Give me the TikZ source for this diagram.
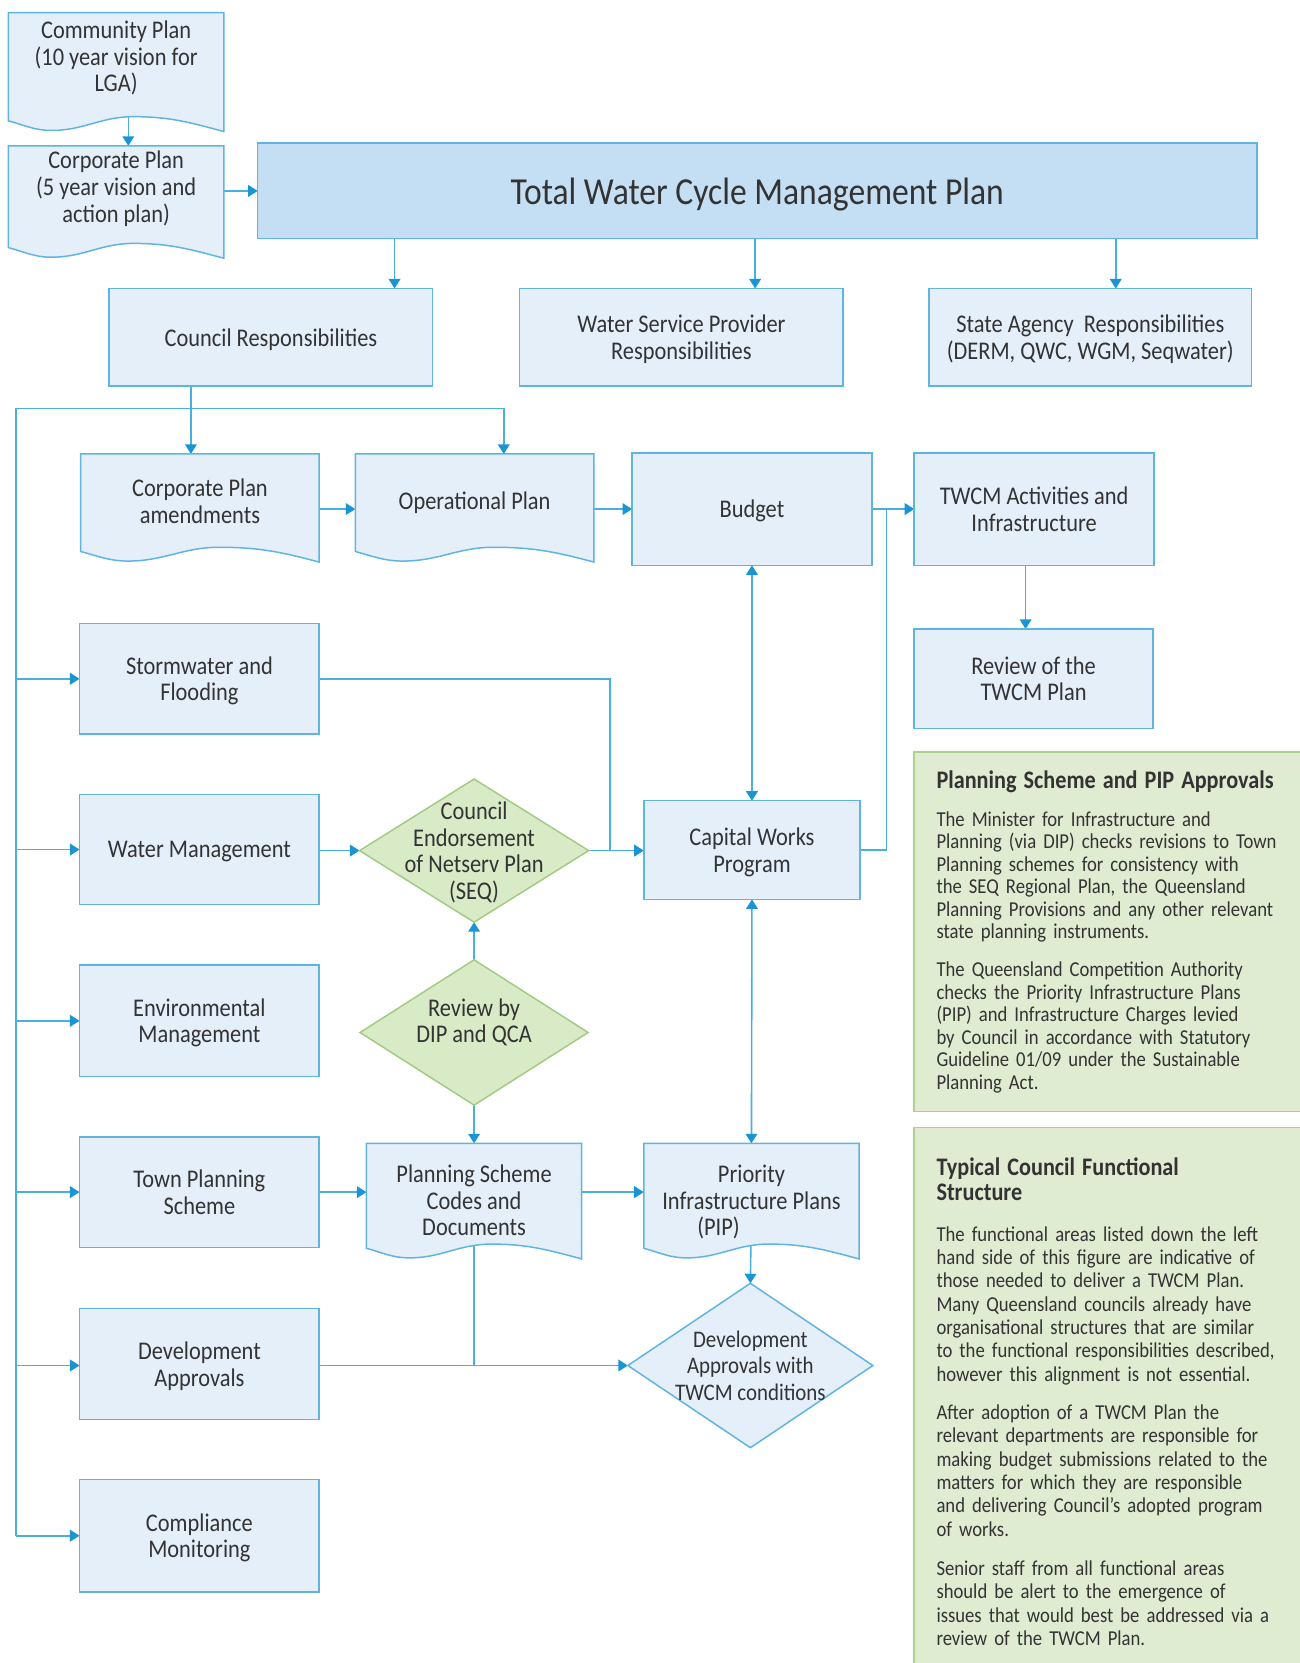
\documentclass[tikz,border=0pt]{standalone}
\usepackage{fontspec}
\setmainfont{Carlito}[FakeStretch=0.88]
\usetikzlibrary{arrows.meta,calc}
\pgfdeclarelayer{lines}
\pgfdeclarelayer{shapes}
\pgfsetlayers{lines,shapes,main}

\definecolor{bfill}{HTML}{E5EFF9}
\definecolor{tfill}{HTML}{C4DFF3}
\definecolor{bline}{HTML}{5FB4E0}
\definecolor{lcol}{HTML}{4AAEE0}
\definecolor{tipcol}{HTML}{1A95D4}
\definecolor{gfill}{HTML}{D9EAC6}
\definecolor{gline}{HTML}{A2CB82}
\definecolor{nfill}{HTML}{DFECD1}
\definecolor{nline}{HTML}{ABD291}
\definecolor{txtc}{HTML}{333333}

\newcommand\boxtxt{\fontsize{12}{12.5}\selectfont}
\newcommand\bigtxt{\fontsize{18}{20}\selectfont}
\newcommand\notetxt{\fontsize{10}{10.6}\selectfont}
\newcommand\notetxtb{\fontsize{10}{11}\selectfont}
\newcommand\notehead{\fontsize{11.9}{11}\selectfont\bfseries}

% document outline (flat top, wavy bottom) behind a text node
\newcommand\wavedoc[2]{%
  \begin{pgfonlayer}{shapes}
  \path[docshape] let \p1=(#1.south west), \p2=(#1.north east), \n1={\x2-\x1} in
    (\x1,\y2) -- (\x2,\y2) -- (\x2,\y1-#2)
    to[out=165,in=0] (\x1+0.58*\n1,\y1-#2+7pt)
    to[out=180,in=0] (\x1+0.2*\n1,\y1-#2+0.5pt)
    to[out=180,in=-15] (\x1,\y1-#2+5pt) -- cycle;
  \end{pgfonlayer}}
% decision diamond behind a text node
\newcommand\diashape[2]{%
  \begin{pgfonlayer}{shapes}
  \path[#2] (#1.north) -- (#1.east) -- (#1.south) -- (#1.west) -- cycle;
  \end{pgfonlayer}}

\begin{document}
\begin{tikzpicture}[x=0.5pt,y=-0.5pt,
  sz/.style 2 args={minimum width={#1*0.5pt},minimum height={#2*0.5pt}},
  txtnode/.style={align=center,inner sep=0pt,outer sep=0pt,text=txtc,font=\boxtxt,text depth=0pt},
  box/.style={txtnode,draw=bline,fill=bfill,line width=0.7pt},
  plain/.style={txtnode},
  docshape/.style={draw=bline,fill=bfill,line width=0.7pt},
  gdia/.style={draw=gline,fill=gfill,line width=0.7pt},
  bdia/.style={draw=bline,fill=bfill,line width=0.7pt},
  note/.style={align=left,text width=172pt,inner xsep=10.5pt,inner ysep=0pt,
    outer sep=0pt,text=txtc,font=\notetxt},
  line/.style={draw=lcol,line width=0.75pt},
  arr/.style={line,-{Triangle[width=5.5pt,length=4.5pt,color=tipcol]}},
  darr/.style={line,{Triangle[width=5.5pt,length=4.5pt,color=tipcol]}-{Triangle[width=5.5pt,length=4.5pt,color=tipcol]}}
]
\useasboundingbox (0,0) rectangle (1225,1568);

% ---- top plans
\node[plain,sz={203}{82}] (cp) at (109.5,53) {Community Plan\\(10 year vision for\\LGA)};
\wavedoc{cp}{15pt}
\node[plain,sz={203}{77}] (corp) at (109.5,176) {Corporate Plan\\(5 year vision and\\action plan)};
\wavedoc{corp}{14.5pt}
\node[box,sz={942}{90},fill=tfill,font=\bigtxt] (twcm) at (714,180) {Total Water Cycle Management Plan};

% ---- responsibilities
\node[box,sz={305}{92}] (cr) at (255.5,318) {Council Responsibilities};
\node[box,sz={305}{92}] (wsp) at (642.5,318) {Water Service Provider\\Responsibilities};
\node[box,sz={304}{92}] (sa) at (1028,318) {State Agency~ Responsibilities\\(DERM, QWC, WGM, Seqwater)};

% ---- planning row
\node[plain,sz={225}{89}] (cpa) at (188.5,472.5) {Corporate Plan\\amendments};
\wavedoc{cpa}{6.5pt}
\node[plain,sz={225}{89}] (op) at (447.5,472.5) {Operational Plan};
\wavedoc{op}{6.5pt}
\node[box,sz={226}{106}] (budget) at (709,480) {Budget};
\node[box,sz={226}{106}] (twa) at (975,480) {TWCM Activities and\\Infrastructure};
\node[box,sz={225}{94}] (rev) at (974.5,640) {Review of the\\TWCM Plan};

% ---- functional areas
\node[box,sz={226}{104}] (sw) at (188,640) {Stormwater and\\Flooding};
\node[box,sz={226}{104}] (wm) at (188,801) {Water Management};
\node[box,sz={226}{105}] (env) at (188,962.5) {Environmental\\Management};
\node[box,sz={226}{104}] (tps) at (188,1124) {Town Planning\\Scheme};
\node[box,sz={226}{105}] (dapp) at (188,1286) {Development\\Approvals};
\node[box,sz={226}{106}] (cm) at (188,1448) {Compliance\\Monitoring};

% ---- approvals and works
\node[plain,sz={216}{135}] (ce) at (447,802) {Council\\Endorsement\\of Netserv Plan\\(SEQ)};
\diashape{ce}{gdia}
\node[plain,sz={215}{137},text depth=11pt] (rdq) at (447,973.5) {Review by\\DIP and QCA};
\diashape{rdq}{gdia}
\node[box,sz={204}{93}] (cwp) at (709,801.5) {Capital Works\\Program};
\node[plain,sz={203}{108}] (pscd) at (447,1132) {Planning Scheme\\Codes and\\Documents};
\wavedoc{pscd}{0.5pt}
\node[plain,sz={203}{108}] (pip) at (708.5,1132) {Priority\\Infrastructure Plans\\\hspace*{-31pt}(PIP)};
\wavedoc{pip}{0.5pt}
\node[plain,sz={231}{155},font=\fontsize{11.2}{12.5}\selectfont] (dawc) at (707.5,1287.5) {Development\\Approvals with\\TWCM conditions};
\diashape{dawc}{bdia}

% ---- side notes
\node[note,anchor=north west,draw=nline,fill=nfill,line width=0.7pt,minimum height=169.5pt] (g1) at (862,709)
 {{\notehead Planning Scheme and PIP Approvals}\\[7.4pt]
  The Minister for Infrastructure and\\
  Planning (via DIP) checks revisions to Town\\
  Planning schemes for consistency with\\
  the SEQ Regional Plan, the Queensland\\
  Planning Provisions and any other relevant\\
  state planning instruments.\\[7.4pt]
  The Queensland Competition Authority\\
  checks the Priority Infrastructure Plans\\
  (PIP) and Infrastructure Charges levied\\
  by Council in accordance with Statutory\\
  Guideline 01/09 under the Sustainable\\
  Planning Act.};

\node[note,anchor=north west,inner ysep=14.3pt,font=\notetxtb] (g2) at (862,1063)
 {{\notehead Typical Council Functional}\\[1pt]
  {\notehead Structure}\\[8pt]
  The functional areas listed down the left\\
  hand side of this figure are indicative of\\
  those needed to deliver a TWCM Plan.\\
  Many Queensland councils already have\\
  organisational structures that are similar\\
  to the functional responsibilities described,\\
  however this alignment is not essential.\\[7pt]
  After adoption of a TWCM Plan the\\
  relevant departments are responsible for\\
  making budget submissions related to the\\
  matters for which they are responsible\\
  and delivering Council’s adopted program\\
  of works.\\[7.5pt]
  Senior staff from all functional areas\\
  should be alert to the emergence of\\
  issues that would best be addressed via a\\
  review of the TWCM Plan.};
\begin{pgfonlayer}{shapes}
\path[draw=nline,fill=nfill,line width=0.7pt] (g2.north west) rectangle (1240,1600);
\end{pgfonlayer}

% ---- helper points for connector routes
\coordinate (cpdrop) at (121,80);
\coordinate (x372) at (372,0);
\coordinate (x712) at (712,0);
\coordinate (x1052) at (1052,0);
\coordinate (busL) at (15,385);
\coordinate (busC) at (180,385);
\coordinate (busR) at (475,385);
\coordinate (jx) at (836,0);
\coordinate (x575) at (575,0);
\coordinate (x967) at (967,0);

% ---- connectors
\begin{pgfonlayer}{lines}
\draw[arr] (cpdrop) -- (cpdrop |- corp.north);
\draw[arr] (corp.east |- twcm.west) -- (twcm.west);
\draw[arr] (twcm.south -| x372) -- (cr.north -| x372);
\draw[arr] (twcm.south -| x712) -- (wsp.north -| x712);
\draw[arr] (twcm.south -| x1052) -- (sa.north -| x1052);

\draw[line] (cr.south -| busC) -- (busC);
\draw[line] (busR) -- (busL) -- (busL |- cm.west);
\draw[arr] (busC) -- (cpa.north -| busC);
\draw[arr] (busR) -- (op.north -| busR);
\draw[arr] (busL |- sw.west) -- (sw.west);
\draw[arr] (busL |- wm.west) -- (wm.west);
\draw[arr] (busL |- env.west) -- (env.west);
\draw[arr] (busL |- tps.west) -- (tps.west);
\draw[arr] (busL |- dawc.west) -- (dapp.west |- dawc.west);
\draw[arr] (busL |- cm.west) -- (cm.west);

\draw[arr] (cpa.east |- budget.west) -- (op.west |- budget.west);
\draw[arr] (op.east |- budget.west) -- (budget.west);
\draw[arr] (budget.east) -- (twa.west);
\draw[line] (budget.east -| jx) -- (jx |- cwp.east) -- (cwp.east);
\draw[arr] (twa.south -| x967) -- (rev.north -| x967);
\draw[darr] (budget.south) -- (cwp.north);

\draw[line] (sw.east) -- (sw.east -| x575) -- (x575 |- ce.east);
\draw[arr] (wm.east |- ce.west) -- (ce.west);
\draw[arr] (ce.east) -- (cwp.west |- ce.east);
\draw[arr] (rdq.north) -- (ce.south);
\draw[arr] (rdq.south) -- (pscd.north);
\draw[arr] (tps.east) -- (pscd.west |- tps.east);
\draw[arr] (pscd.east |- tps.east) -- (pip.west |- tps.east);
\draw[darr] (cwp.south) -- (pip.north);
\draw[arr] (pip.center) -- (dawc.north);
\draw[line] (pscd.center) -- (pscd.center |- dawc.west);
\draw[arr] (dapp.east |- dawc.west) -- (dawc.west);
\end{pgfonlayer}
\end{tikzpicture}
\end{document}
